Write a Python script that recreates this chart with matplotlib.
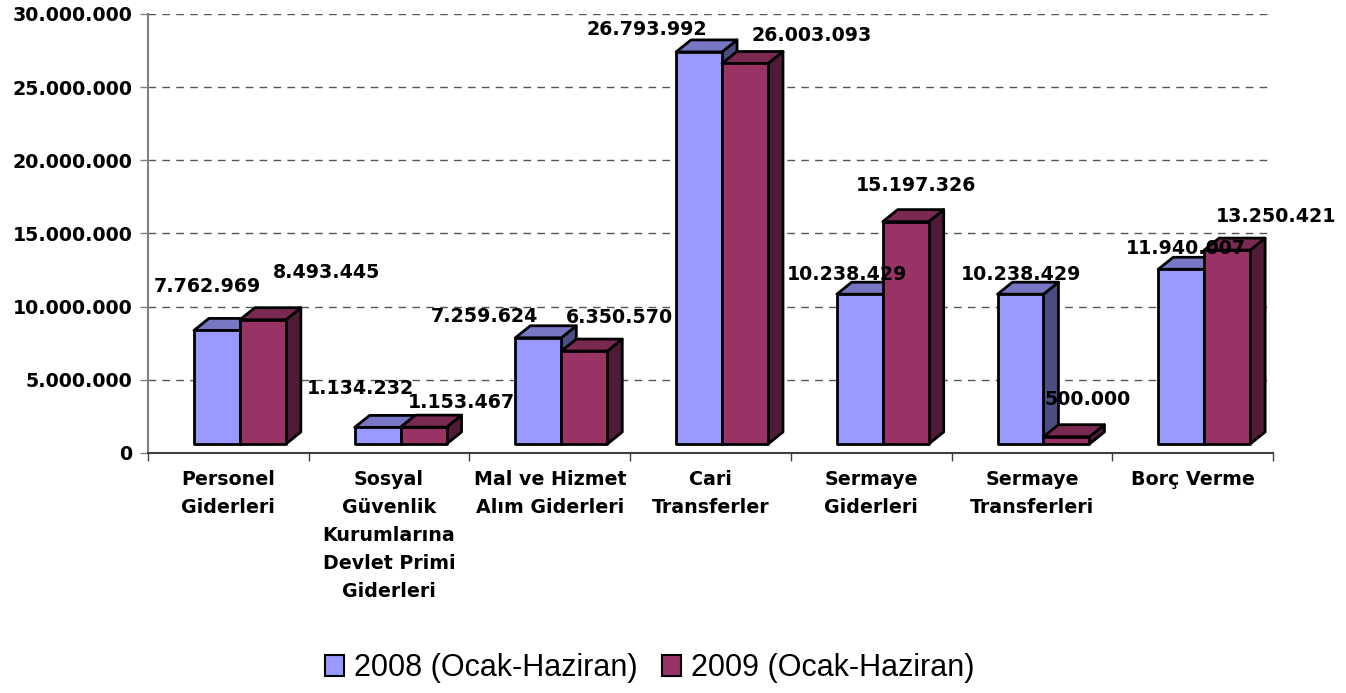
import matplotlib
matplotlib.use("Agg")
import matplotlib.pyplot as plt
from matplotlib.patches import Polygon, Rectangle
from matplotlib.ticker import FuncFormatter

categories = [
    "Personel\nGiderleri",
    "Sosyal\nGüvenlik\nKurumlarına\nDevlet Primi\nGiderleri",
    "Mal ve Hizmet\nAlım Giderleri",
    "Cari\nTransferler",
    "Sermaye\nGiderleri",
    "Sermaye\nTransferleri",
    "Borç Verme",
]
values_2008 = [7762969, 1134232, 7259624, 26793992, 10238429, 10238429, 11940007]
values_2009 = [8493445, 1153467, 6350570, 26003093, 15197326, 500000, 13250421]
series_names = ["2008 (Ocak-Haziran)", "2009 (Ocak-Haziran)"]
y_ticks = [0, 5000000, 10000000, 15000000, 20000000, 25000000, 30000000]

# colours: front, top, side
COLORS = [
    ("#9999FF", "#7777C6", "#4D4D85"),
    ("#993366", "#7A2952", "#4F1B36"),
]

# label nudges in pixels (dx, up) from the front-top centre of each bar
LABEL_NUDGE = [
    [(-10, 38), (-17, 33), (-54, 16), (-52, 17), (-13, 14), (0, 14), (5, 15)],
    [(64, 42), (38, 19), (35, 28), (67, 22), (10, 31), (21, 32), (49, 28)],
]

BAR_OFF = 0.286   # left offset of first bar inside category
BAR_W = 0.286
DEPTH_X = 0.093
DEPTH_Y = 0.82e6
BASE = 0.615e6    # front faces sit a little above the axis line (3d floor)


def fmt_tr(v):
    return f"{int(round(v)):,}".replace(",", ".")


def draw_bar(ax, x0, w, v, colors):
    front, top, side = colors
    y0, y1 = BASE, BASE + v
    kw = dict(edgecolor="black", linewidth=2.0, joinstyle="round", clip_on=False, zorder=3)
    ax.add_patch(Polygon([(x0 + w, y0), (x0 + w + DEPTH_X, y0 + DEPTH_Y),
                          (x0 + w + DEPTH_X, y1 + DEPTH_Y), (x0 + w, y1)], facecolor=side, **kw))
    ax.add_patch(Polygon([(x0, y1), (x0 + DEPTH_X, y1 + DEPTH_Y),
                          (x0 + w + DEPTH_X, y1 + DEPTH_Y), (x0 + w, y1)], facecolor=top, **kw))
    ax.add_patch(Polygon([(x0, y0), (x0 + w, y0), (x0 + w, y1), (x0, y1)], facecolor=front, **kw))


fig = plt.figure(figsize=(13.46, 6.93), dpi=100)
ax = fig.add_axes([148 / 1346, 1 - 453 / 693, (1273 - 148) / 1346, 439 / 693])

n = len(categories)
ax.set_xlim(0, n)
ax.set_ylim(0, 30000000)

for i in range(n):
    for s, vals in enumerate([values_2008, values_2009]):
        x0 = i + BAR_OFF + s * BAR_W
        draw_bar(ax, x0, BAR_W, vals[i], COLORS[s])
        dx, up = LABEL_NUDGE[s][i]
        ax.annotate(fmt_tr(vals[i]), xy=(x0 + BAR_W / 2, BASE + vals[i]),
                    xytext=(dx, up), textcoords="offset pixels",
                    ha="center", va="baseline", fontsize=13.7, fontweight="bold",
                    color="black", zorder=5, annotation_clip=False)

# grid
for t in y_ticks[1:]:
    ax.axhline(t, color="#555555", linewidth=1.0, linestyle=(0, (5.5, 4.5)), zorder=1)

ax.set_yticks(y_ticks)
ax.yaxis.set_major_formatter(FuncFormatter(lambda v, p: fmt_tr(v)))
ax.tick_params(axis="y", direction="out", length=6, width=1, color="#808080", pad=5,
               labelsize=13.7)
for lab in ax.get_yticklabels():
    lab.set_fontweight("bold")

ax.set_xticks(range(n + 1))
ax.set_xticklabels([])
ax.tick_params(axis="x", which="major", direction="out", length=6, width=1, color="#404040")
ax.set_xticks([i + 0.5 for i in range(n)], minor=True)
ax.set_xticklabels(categories, minor=True, fontsize=13.7, fontweight="bold", linespacing=1.6)
ax.tick_params(axis="x", which="minor", length=0, pad=12)

for side in ["top", "right"]:
    ax.spines[side].set_visible(False)
ax.spines["left"].set_color("#808080")
ax.spines["left"].set_linewidth(1.5)
ax.spines["bottom"].set_color("#404040")
ax.spines["bottom"].set_linewidth(1.5)

handles = [Rectangle((0, 0), 1, 1, facecolor=c[0], edgecolor="black", linewidth=1.5) for c in COLORS]
fig.legend(handles, series_names, loc="center", bbox_to_anchor=(0.483, 0.036), ncol=2,
           frameon=False, prop={"family": "Liberation Sans", "size": 22},
           handlelength=0.62, handleheight=0.7, handletextpad=0.33, columnspacing=0.8)

fig.savefig("out.png", dpi=100)
